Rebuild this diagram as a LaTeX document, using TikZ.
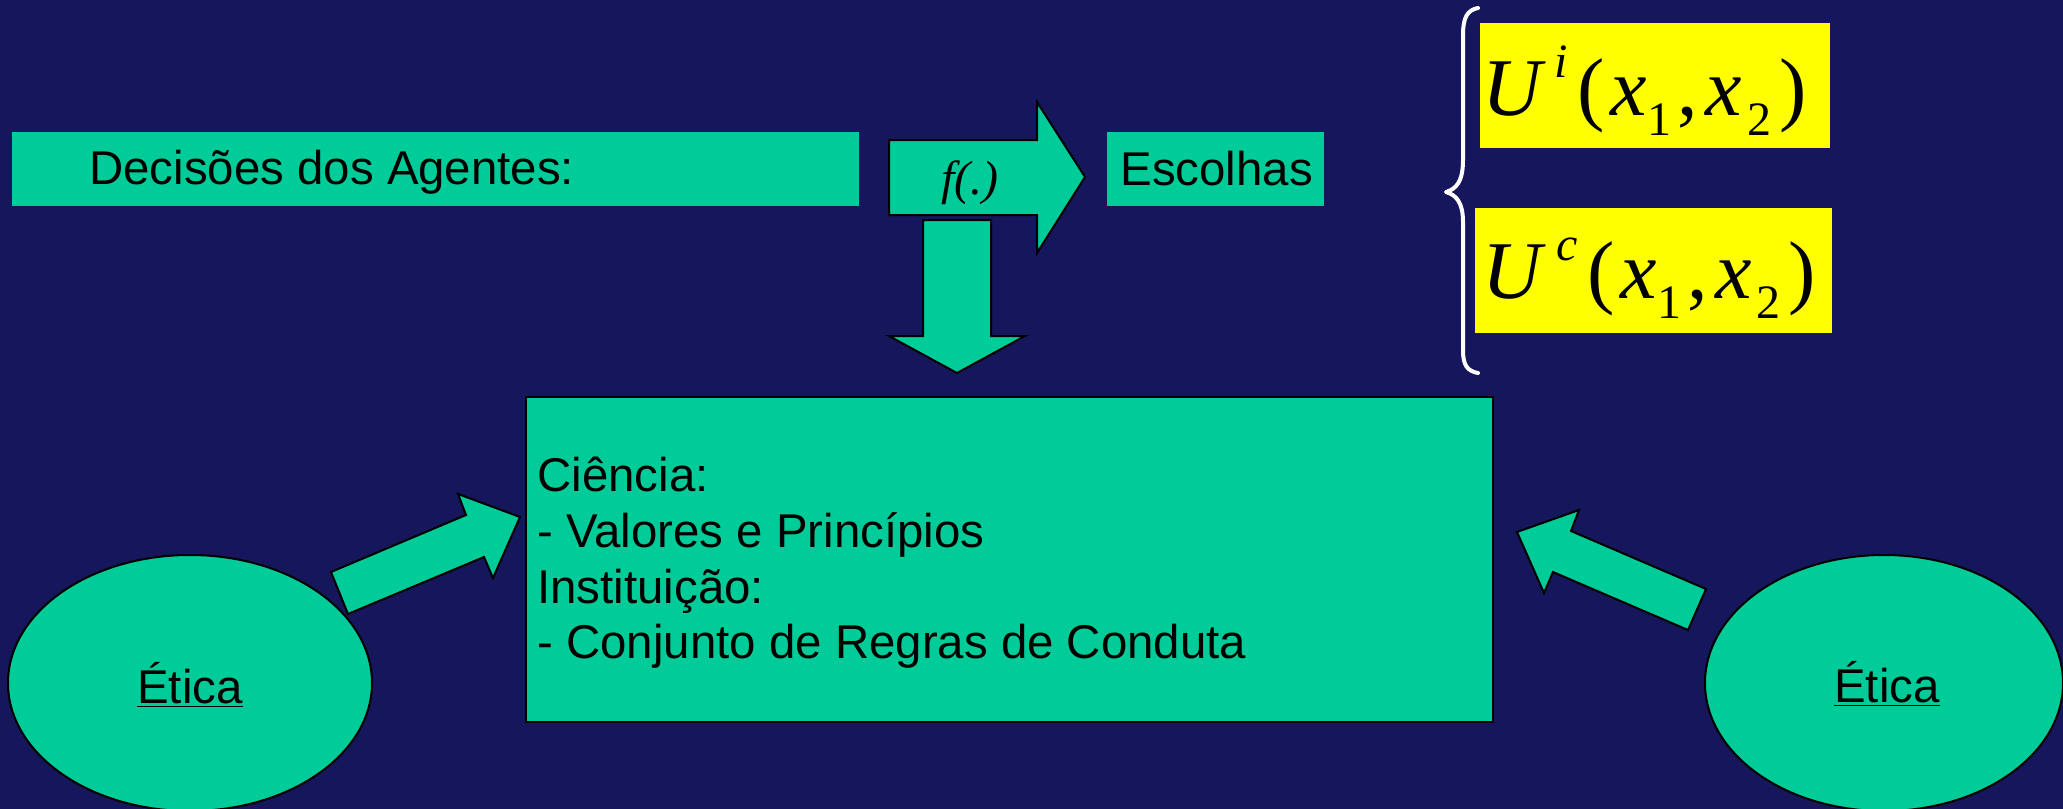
\documentclass[tikz,border=0pt]{standalone}
\usepackage{fontspec}
\setmainfont{Liberation Sans}
\newfontfamily\timesf{Liberation Serif}
\definecolor{navybg}{RGB}{22,22,92}
\definecolor{tealfill}{RGB}{0,204,153}
\definecolor{yel}{RGB}{255,255,0}
\newcommand{\uexpr}[3]{{\timesf\fontsize{41}{41}\selectfont\textit{U}\kern #2\raisebox{19pt}{\fontsize{24}{24}\selectfont\textit{#1}}\kern #3(\kern 3pt\textit{x}\kern 0pt\raisebox{-10pt}{\fontsize{24}{24}\selectfont 1}\kern 3pt,\kern 4pt\textit{x}\kern 2.5pt\raisebox{-10pt}{\fontsize{24}{24}\selectfont 2}\kern 4pt)}}
\begin{document}
\begin{tikzpicture}[x=0.5pt,y=-0.5pt,
  shapeline/.style={fill=tealfill,draw=black,line width=1pt,line join=miter},
  plainbox/.style={fill=tealfill,draw=none,inner sep=0pt,anchor=north west},
  arialtxt/.style={font=\fontsize{23.7}{28}\selectfont,text=black,inner sep=0pt,anchor=base west},
  yelbox/.style={fill=yel,draw=none,inner sep=0pt,anchor=north west},
  bracestyle/.style={draw=white,line width=2pt,line cap=round,line join=round}]
\fill[navybg] (0,0) rectangle (2063,809);
\useasboundingbox (0,0) rectangle (2063,809);

% top row boxes
\node[plainbox,minimum width=423.5pt,minimum height=37pt] (decbox) at (12,132) {};
\node[arialtxt] (dectxt) at (89,184) {Decisões dos Agentes:};
\node[plainbox,minimum width=108.5pt,minimum height=37pt] (escbox) at (1107,132) {};
\node[arialtxt] (esctxt) at (1120,185) {Escolhas};

% f(.) block arrow
\draw[shapeline] (889,140) -- (1037,140) -- (1037,102) -- (1085,177) -- (1037,253) -- (1037,215) -- (889,215) -- cycle;
\node[font={\timesf\itshape\fontsize{24}{24}\selectfont},inner sep=0pt,anchor=base] (ftxt) at (970,194) {f(.)};

% down block arrow
\draw[shapeline] (923,220) -- (991,220) -- (991,336) -- (1025,336) -- (957,373) -- (889,336) -- (923,336) -- cycle;

% main box
\draw[shapeline] (526,397) rectangle (1493,722);
\node[arialtxt] (l1) at (537,491) {Ciência:};
\node[arialtxt] (l2) at (537,547) {- Valores e Princípios};
\node[arialtxt] (l3) at (537,603) {Instituição:};
\node[arialtxt] (l4) at (537,658) {- Conjunto de Regras de Conduta};

% ellipses
\draw[shapeline] (190,683) ellipse [x radius=182, y radius=128];
\node[arialtxt,anchor=base] (eticaL) at (190,703) {\underline{Ética}};
\draw[shapeline] (1884,683) ellipse [x radius=179, y radius=128];
\node[arialtxt,anchor=base] (eticaR) at (1887,702) {\underline{Ética}};

% diagonal block arrows
\draw[shapeline] (331,572) -- (466,515) -- (458,494) -- (520,517) -- (493,578) -- (484,557) -- (348,614) -- cycle;
\draw[shapeline] (1706,589) -- (1571,531) -- (1579,510) -- (1517,532) -- (1544,593) -- (1553,572) -- (1688,630) -- cycle;

% utility functions
\node[yelbox,minimum width=175pt,minimum height=62.5pt] (ybox1) at (1480,23) {};
\node[yelbox,minimum width=178.5pt,minimum height=62.5pt] (ybox2) at (1475,208) {};
\node[inner sep=0pt,anchor=base west] (u1) at (1482,115) {\uexpr{i}{4pt}{5pt}};
\node[inner sep=0pt,anchor=base west] (u2) at (1482,298) {\uexpr{c}{5pt}{5pt}};

% brace
\draw[bracestyle] (1478,8) .. controls (1467,10) and (1463,18) .. (1463,35) -- (1463,160)
  .. controls (1463,182) and (1456,189) .. (1446,192)
  .. controls (1456,195) and (1463,202) .. (1463,222) -- (1463,350)
  .. controls (1463,365) and (1467,371) .. (1478,373);
\end{tikzpicture}
\end{document}
